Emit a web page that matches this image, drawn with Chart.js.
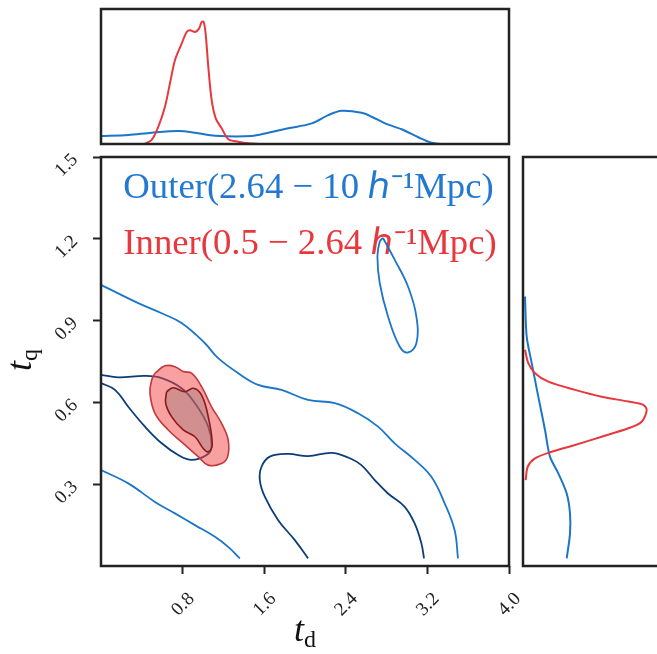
<!DOCTYPE html>
<html><head><meta charset="utf-8">
<script src="https://cdn.jsdelivr.net/npm/chart.js@4.4.0/dist/chart.umd.min.js"></script>
<style>
html,body{margin:0;padding:0;background:#fff;overflow:hidden;width:657px;height:654px;position:relative;}
canvas{position:absolute;left:0;top:0;}
.lbl{position:absolute;font-family:"Liberation Serif",serif;color:#111;white-space:nowrap;font-size:36px;line-height:40px;height:40px;text-align:center;}
.lbl i{font-style:italic;}
.lbl span{font-style:normal;font-size:24px;position:relative;top:6px;}
</style></head><body>
<canvas id="main" width="657" height="654" style="width:657px;height:654px"></canvas>
<canvas id="top" width="657" height="654" style="width:657px;height:654px"></canvas>
<canvas id="right" width="700" height="654" style="width:700px;height:654px"></canvas>
<div class="lbl" id="xl" style="left:265px;top:609px;width:80px;"><i>t</i><span>d</span></div>
<div class="lbl" id="yl" style="left:-21px;top:340px;width:80px;transform:rotate(-90deg);"><i>t</i><span>q</span></div>
<script>
// ---- tick labels ----
const xTicks = [0.8, 1.6, 2.4, 3.2, 4.0];
const yTicks = [0.3, 0.6, 0.9, 1.2, 1.5];
// ---- legend ----
const legendTexts = ['Outer(2.64 \u2212 10 \u210E\u207B\u00B9Mpc)', 'Inner(0.5 \u2212 2.64 \u210E\u207B\u00B9Mpc)'];
// ---- Outer 2-sigma contour (three pieces) ----
const outerUpperX = [0,0.365,0.595,0.790,1.019,1.146,1.345,1.541,1.770,2.030,2.292,2.520,2.716,2.879,3.075,3.239,3.369,3.467,3.500];
const outerUpperY = [1.031,0.964,0.927,0.891,0.817,0.763,0.707,0.664,0.646,0.609,0.597,0.560,0.511,0.450,0.389,0.327,0.230,0.131,0.028];
const outerLowerX = [0,0.267,0.529,0.725,0.921,1.117,1.247,1.361];
const outerLowerY = [0.352,0.303,0.235,0.193,0.150,0.107,0.070,0.028];
const outerLoopX = [2.765,2.880,3.010,3.092,3.092,3.010,2.928,2.814,2.733,2.710,2.733,2.765];
const outerLoopY = [1.203,1.123,1.025,0.915,0.817,0.783,0.805,0.915,1.037,1.135,1.190,1.203];
// ---- Outer 1-sigma contour (two pieces) ----
const outer1LeftX = [0,0.169,0.431,0.595,0.790,0.921,1.051,1.084,1.035,0.888,0.757,0.595,0.431,0.267,0.137,0];
const outer1LeftY = [0.701,0.692,0.697,0.689,0.652,0.597,0.511,0.437,0.407,0.389,0.407,0.450,0.511,0.584,0.646,0.671];
const outer1RightX = [2.030,1.900,1.737,1.606,1.557,1.574,1.655,1.835,2.030,2.260,2.422,2.553,2.684,2.814,2.977,3.075,3.141,3.167];
const outer1RightY = [0.028,0.095,0.168,0.254,0.315,0.364,0.401,0.411,0.403,0.415,0.398,0.370,0.315,0.266,0.217,0.156,0.083,0.028];
// ---- Inner contours ----
const inner2X = [0.529,0.627,0.725,0.806,0.888,0.986,1.084,1.182,1.247,1.241,1.182,1.051,0.953,0.823,0.659,0.529,0.480,0.497,0.529];
const inner2Y = [0.707,0.734,0.731,0.713,0.707,0.658,0.584,0.523,0.462,0.401,0.376,0.370,0.401,0.444,0.499,0.560,0.634,0.682,0.707];
const inner1X = [0.643,0.708,0.823,0.904,0.986,1.051,1.090,1.051,1.002,0.921,0.806,0.692,0.634,0.643];
const inner1Y = [0.639,0.654,0.639,0.652,0.627,0.548,0.444,0.419,0.431,0.474,0.499,0.548,0.597,0.639];
// ---- top marginal (t_d) ----
const topInnerX = [0.424,0.497,0.562,0.627,0.676,0.725,0.791,0.840,0.873,0.922,0.961,0.987,1.007,1.026,1.052,1.085,1.125,1.183,1.248,1.346,1.444,1.55];
const topInnerD = [0,0.030,0.128,0.276,0.449,0.621,0.744,0.830,0.843,0.830,0.855,0.904,0.904,0.818,0.571,0.325,0.190,0.116,0.035,0.017,0.005,0];
const topOuterX = [0,0.268,0.497,0.758,0.922,1.118,1.477,1.640,1.836,2.066,2.228,2.360,2.556,2.654,2.784,2.948,3.111,3.242,3.373,4.0];
const topOuterD = [0.059,0.067,0.084,0.096,0.084,0.061,0.059,0.084,0.116,0.153,0.214,0.246,0.231,0.202,0.153,0.109,0.050,0.010,0.0,0];
// ---- right marginal (t_q) ----
const rightOuterY = [0.988,0.841,0.744,0.621,0.499,0.401,0.340,0.266,0.193,0.119,0.028];
const rightOuterD = [0.02,0.037,0.087,0.153,0.22,0.27,0.353,0.437,0.47,0.47,0.437];
const rightInnerY = [0.793,0.744,0.707,0.676,0.646,0.621,0.603,0.591,0.572,0.529,0.505,0.474,0.444,0.419,0.395,0.364,0.315];
const rightInnerD = [0.02,0.053,0.12,0.253,0.52,0.787,1.053,1.203,1.237,1.187,1.053,0.787,0.52,0.287,0.12,0.047,0.027];

const BLUE = '#1b75c9', NAVY = '#0d3d78', RED = '#e8383d', LEGBLUE = '#2379d0';
const FONT = '"Liberation Serif", serif';
const zip = (xs, ys) => xs.map((x, i) => ({x: x, y: ys[i]}));

const framePlugin = {
  id: 'frame',
  afterDraw(chart) {
    const a = chart.chartArea, c = chart.ctx;
    c.save(); c.strokeStyle = '#222'; c.lineWidth = 2.5;
    c.strokeRect(a.left, a.top, a.right - a.left, a.bottom - a.top);
    c.restore();
  }
};

function line(data, color, width, extra) {
  return Object.assign({data: data, showLine: true, borderColor: color, borderWidth: width,
    backgroundColor: 'rgba(0,0,0,0)', fill: false, tension: 0.4, pointRadius: 0}, extra || {});
}

Chart.defaults.font.family = FONT;
Chart.defaults.animation = false;

new Chart(document.getElementById('main'), {
  type: 'scatter',
  data: { datasets: [
    line(zip(inner1X, inner1Y), '#8b1a1a', 1.6, {fill: 'shape', backgroundColor: 'rgba(150,120,120,0.4)'}),
    line(zip(inner2X, inner2Y), '#c0393b', 1.6, {fill: 'shape', backgroundColor: 'rgba(243,65,65,0.5)'}),
    line(zip(outer1LeftX, outer1LeftY), NAVY, 1.8),
    line(zip(outer1RightX, outer1RightY), NAVY, 1.8),
    line(zip(outerUpperX, outerUpperY), BLUE, 1.8),
    line(zip(outerLowerX, outerLowerY), BLUE, 1.8),
    line(zip(outerLoopX, outerLoopY), BLUE, 1.8)
  ]},
  options: {
    responsive: false,
    events: [],
    layout: {padding: {left: 0, top: 157, right: 148, bottom: 0}},
    elements: {point: {radius: 0}},
    plugins: {
      tooltip: {enabled: false},
      legend: {
        display: true, position: 'chartArea', align: 'center',
        title: {display: true, text: '', font: {size: 1}, padding: {top: 7, bottom: 15}},
        labels: {
          font: {family: FONT, size: 36.7}, boxWidth: -15, boxHeight: 0, padding: 19,
          generateLabels: () => legendTexts.map((t, i) => ({
            text: t, fontColor: i === 0 ? LEGBLUE : RED,
            fillStyle: 'rgba(0,0,0,0)', strokeStyle: 'rgba(0,0,0,0)', lineWidth: 0, hidden: false, datasetIndex: i
          }))
        }
      }
    },
    scales: {
      x: {
        type: 'linear', min: 0, max: 4,
        afterBuildTicks: s => { s.ticks = xTicks.map(v => ({value: v})); },
        afterFit: s => { s.height = 88; },
        border: {display: false},
        grid: {drawOnChartArea: false, drawTicks: true, tickLength: 8, tickWidth: 2, tickColor: '#222'},
        ticks: {minRotation: 45, maxRotation: 45, autoSkip: false, padding: 14, labelOffset: 9,
          color: '#222', font: {family: FONT, size: 19}, callback: v => Number(v).toFixed(1)}
      },
      y: {
        type: 'linear', min: 0, max: 1.5,
        afterBuildTicks: s => { s.ticks = yTicks.map(v => ({value: v})); },
        afterFit: s => { s.width = 101; },
        border: {display: false},
        grid: {drawOnChartArea: false, drawTicks: true, tickLength: 8, tickWidth: 2, tickColor: '#222'},
        ticks: {minRotation: 45, maxRotation: 45, autoSkip: false, padding: 18, labelOffset: 0,
          color: '#222', font: {family: FONT, size: 19}, callback: v => Number(v).toFixed(1)}
      }
    }
  },
  plugins: [framePlugin]
});

new Chart(document.getElementById('top'), {
  type: 'scatter',
  data: { datasets: [
    line(zip(topInnerX, topInnerD), RED, 2, {tension: 0.3}),
    line(zip(topOuterX, topOuterD), BLUE, 2, {tension: 0.3})
  ]},
  options: {
    responsive: false, events: [],
    layout: {padding: {left: 101, top: 9, right: 148, bottom: 510}},
    plugins: {legend: {display: false}, tooltip: {enabled: false}},
    scales: {
      x: {type: 'linear', min: 0, max: 4, display: false},
      y: {type: 'linear', min: 0, max: 1, display: false}
    }
  },
  plugins: [framePlugin]
});

new Chart(document.getElementById('right'), {
  type: 'scatter',
  data: { datasets: [
    line(zip(rightInnerD, rightInnerY), RED, 2, {tension: 0.3}),
    line(zip(rightOuterD, rightOuterY), BLUE, 2, {tension: 0.3})
  ]},
  options: {
    responsive: false, events: [],
    layout: {padding: {left: 523, top: 157, right: 30, bottom: 88}},
    plugins: {legend: {display: false}, tooltip: {enabled: false}},
    scales: {
      x: {type: 'linear', min: 0, max: 1.47, display: false},
      y: {type: 'linear', min: 0, max: 1.5, display: false}
    }
  },
  plugins: [framePlugin]
});
</script>
</body></html>
